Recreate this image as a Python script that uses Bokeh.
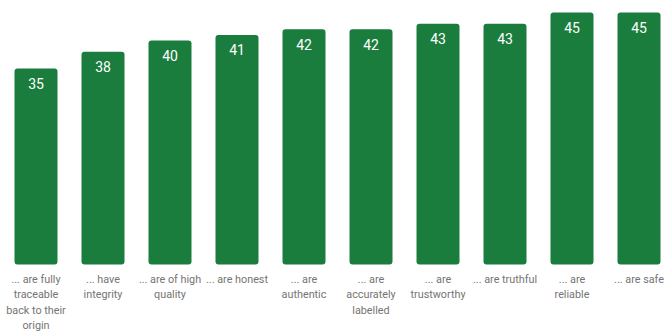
from bokeh.plotting import figure
from bokeh.models import Range1d, ColumnDataSource
from bokeh.core.properties import value
from bokeh.embed import file_html
from bokeh.resources import INLINE

categories = [
    "... are fully\ntraceable\nback to their\norigin",
    "... have\nintegrity",
    "... are of high\nquality",
    "... are honest",
    "... are\nauthentic",
    "... are\naccurately\nlabelled",
    "... are\ntrustworthy",
    "... are truthful",
    "... are\nreliable",
    "... are safe",
]
values = [35, 38, 40, 41, 42, 42, 43, 43, 45, 45]

PX_PER_UNIT = 5.6   # vertical pixels per value unit
PITCH = 67.0        # horizontal pixels per category
W, H = 664, 333
ZERO_PX = 264       # pixels from frame top to baseline

xs = list(range(len(values)))
src = ColumnDataSource(dict(
    x=xs,
    v=values,
    vlab=[str(v) for v in values],
    vy=[v - 15 / PX_PER_UNIT for v in values],
    cat=categories,
    cy=[-8 / PX_PER_UNIT] * len(values),
))

x_start = -35.5 / PITCH
p = figure(width=W, height=H, output_backend="svg", toolbar_location=None,
           x_range=Range1d(x_start, x_start + W / PITCH),
           y_range=Range1d(-(H - ZERO_PX) / PX_PER_UNIT, ZERO_PX / PX_PER_UNIT),
           min_border=0, outline_line_color=None)
p.axis.visible = False
p.grid.visible = False
p.background_fill_color = "white"
p.border_fill_color = "white"

p.vbar(x="x", top="v", bottom=0, width=43 / PITCH, source=src,
       fill_color="#1a7d3e", line_color=None, border_radius=3)

p.text(x="x", y="vy", text="vlab", source=src, text_color="white",
       text_font=value("Roboto"), text_font_size="14px",
       text_align="center", text_baseline="middle")

p.text(x="x", y="cy", text="cat", source=src, text_color="#747474",
       text_font=value("Roboto"), text_font_size="10.8px",
       text_align="center", text_baseline="top", text_line_height=1.2)

open("out.html", "w").write(file_html(p, INLINE))
